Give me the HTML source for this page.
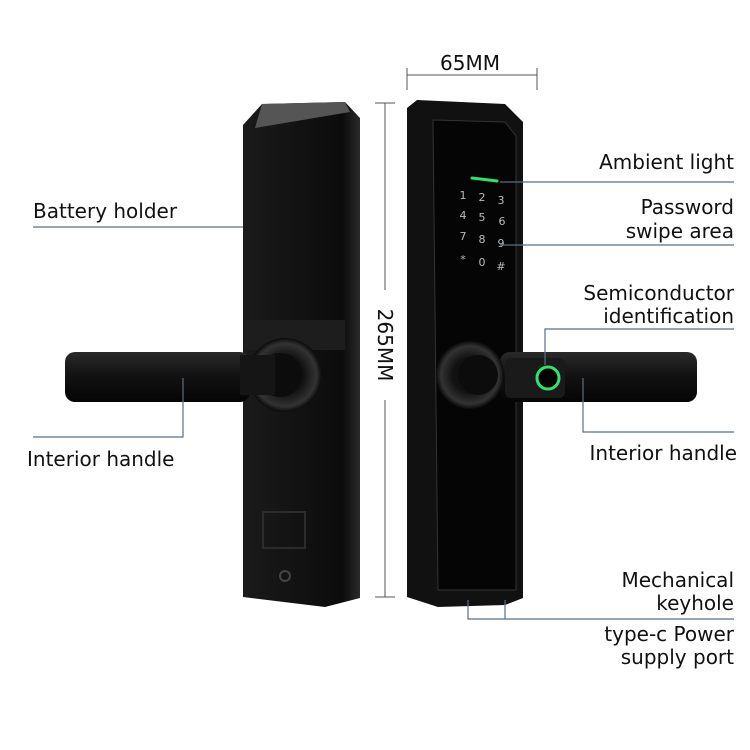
<!DOCTYPE html>
<html><head><meta charset="utf-8"><style>
html,body{margin:0;padding:0;background:#fff;}
svg{display:block;}
text{font-family:"DejaVu Sans","Liberation Sans",sans-serif;fill:#111;}
</style></head><body>
<svg width="750" height="750" viewBox="0 0 750 750">
<defs>
<linearGradient id="bodyL" x1="0" x2="1"><stop offset="0" stop-color="#1a1a1a"/><stop offset="0.85" stop-color="#0c0c0c"/><stop offset="1" stop-color="#2a2a2a"/></linearGradient>
<linearGradient id="hnd" x1="0" y1="0" x2="0" y2="1"><stop offset="0" stop-color="#2a2a2a"/><stop offset="0.5" stop-color="#111"/><stop offset="1" stop-color="#050505"/></linearGradient>
<radialGradient id="ros"><stop offset="0.5" stop-color="#111"/><stop offset="0.85" stop-color="#333"/><stop offset="1" stop-color="#0a0a0a"/></radialGradient>
</defs>
<path d="M243 125 L262 104 L345 102 L360 118 L360 598 L325 607 L243 597 Z" fill="url(#bodyL)"/>
<path d="M262 104 L345 102 L350 112 L255 128 Z" fill="#555"/>
<path d="M245 320 L345 320 L345 350 L245 350 Z" fill="#1d1d1d"/>
<rect x="263" y="512" width="42" height="36" fill="none" stroke="#2c2c2c" stroke-width="2"/>
<circle cx="285" cy="576" r="5" fill="none" stroke="#444" stroke-width="2"/>
<rect x="65" y="352" width="185" height="50" rx="10" fill="url(#hnd)"/>
<circle cx="285" cy="375" r="37" fill="url(#ros)"/>
<circle cx="280" cy="375" r="22" fill="#0c0c0c"/>
<rect x="240" y="355" width="35" height="40" fill="#151515"/>
<path d="M407 108 L417 100 L505 104 L523 122 L523 598 L505 605 L438 607 L407 597 Z" fill="#111"/>
<path d="M433 120 L505 122 L516 136 L516 590 L438 590 Z" fill="#050505" stroke="#333" stroke-width="1"/>
<line x1="472" y1="178" x2="497" y2="181" stroke="#2ee36a" stroke-width="3" stroke-linecap="round"/>
<g font-size="11" text-anchor="middle">
<text x="463" y="199" style="fill:#bbb">1</text><text x="482" y="201" style="fill:#bbb">2</text><text x="501" y="204" style="fill:#bbb">3</text>
<text x="463" y="219" style="fill:#bbb">4</text><text x="482" y="221" style="fill:#bbb">5</text><text x="502" y="225" style="fill:#bbb">6</text>
<text x="463" y="240" style="fill:#bbb">7</text><text x="482" y="243" style="fill:#bbb">8</text><text x="501" y="247" style="fill:#bbb">9</text>
<text x="463" y="263" style="fill:#bbb">*</text><text x="482" y="266" style="fill:#bbb">0</text><text x="501" y="270" style="fill:#bbb">#</text>
</g>
<rect x="500" y="352" width="197" height="50" rx="10" fill="url(#hnd)"/>
<rect x="445" y="355" width="40" height="40" fill="#151515"/>
<circle cx="470" cy="375" r="34" fill="url(#ros)"/>
<circle cx="478" cy="375" r="20" fill="#0c0c0c"/>
<rect x="505" y="358" width="60" height="40" rx="6" fill="#1a1a1a"/>
<circle cx="548" cy="378" r="11" fill="#000" stroke="#2ee36a" stroke-width="3"/>
<g stroke="#555" stroke-width="1" fill="none">
<line x1="407" y1="75" x2="537" y2="75"/><line x1="407" y1="68" x2="407" y2="90"/><line x1="537" y1="68" x2="537" y2="90"/>
<line x1="385" y1="103" x2="385" y2="290"/><line x1="385" y1="400" x2="385" y2="597"/>
<line x1="375" y1="103" x2="395" y2="103"/><line x1="375" y1="597" x2="395" y2="597"/>
</g>
<text x="470" y="70" font-size="20" text-anchor="middle">65MM</text>
<text transform="translate(378,345) rotate(90)" font-size="20" text-anchor="middle">265MM</text>
<g stroke="#5a6f82" stroke-width="1.2" fill="none">
<polyline points="33,227 243,227"/>
<polyline points="33,437 183,437 183,378"/>
<polyline points="500,182 734,182"/>
<polyline points="500,245 734,245"/>
<polyline points="545,365 545,329 734,329"/>
<polyline points="583,378 583,432 734,432"/>
<polyline points="468,600 468,619 734,619"/>
<polyline points="505,600 505,619"/>
</g>
<g font-size="20">
<text x="33" y="218">Battery holder</text>
<text x="27" y="466">Interior handle</text>
<g text-anchor="end">
<text x="734" y="169">Ambient light</text>
<text x="734" y="214">Password</text><text x="734" y="238">swipe area</text>
<text x="734" y="300">Semiconductor</text><text x="734" y="323">identification</text>
<text x="737" y="460">Interior handle</text>
<text x="734" y="587">Mechanical</text><text x="734" y="610">keyhole</text>
<text x="734" y="641">type-c Power</text><text x="734" y="664">supply port</text>
</g></g>
</svg>
</body></html>
